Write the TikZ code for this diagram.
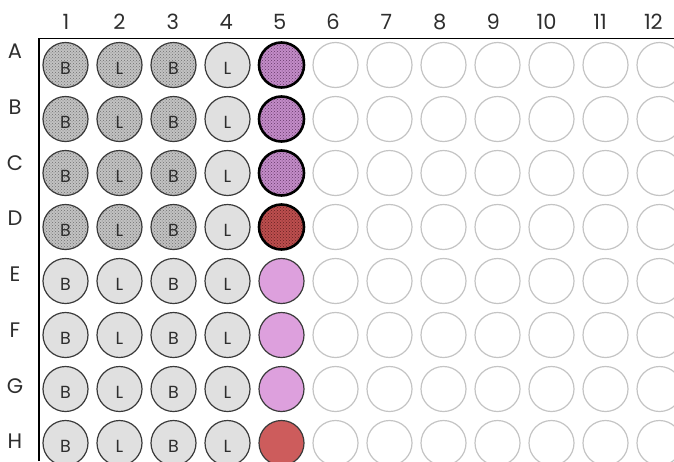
\documentclass[tikz,border=0pt]{standalone}
\usepackage{fontspec}
\setmainfont{Poppins}
\usepackage{tikz}
\usetikzlibrary{patterns}
\usepackage{xcolor}
\definecolor{WellEdge}{HTML}{3A3A3A}
\definecolor{EmptyEdge}{HTML}{C4C4C4}
\definecolor{LysGray}{HTML}{E0E0E0}
\definecolor{GritGray}{HTML}{C2C2C2}
\definecolor{GritDots}{HTML}{707070}
\definecolor{Plum}{HTML}{DDA0DD}
\definecolor{PlumBase}{HTML}{C38CC8}
\definecolor{PlumDots}{HTML}{663868}
\definecolor{Brick}{HTML}{CD5C5C}
\definecolor{BrickBase}{HTML}{BC4E4E}
\definecolor{BrickDots}{HTML}{642020}
\definecolor{LabelInk}{HTML}{2E2E2E}

\begin{document}
\begin{tikzpicture}[x=1pt, y=-1pt,
  well/.style={circle, minimum size=45pt, inner sep=0pt, line width=1.2pt,
               draw=WellEdge, text=LabelInk, font=\fontsize{17.5}{20}\selectfont,
               text height=19.5pt, text depth=0pt},
  blank/.style={well, draw=EmptyEdge, fill=white},
  lys/.style={well, fill=LysGray},
  grit/.style={well, preaction={fill=GritGray}, pattern=crosshatch dots,
               pattern color=GritDots},
  plumgrit/.style={well, draw=black, line width=2.6pt, preaction={fill=PlumBase},
                   pattern=crosshatch dots, pattern color=PlumDots},
  brickgrit/.style={well, draw=black, line width=2.6pt, preaction={fill=BrickBase},
                    pattern=crosshatch dots, pattern color=BrickDots},
  plum/.style={well, fill=Plum},
  brick/.style={well, fill=Brick},
  axislbl/.style={text=LabelInk, font=\fontsize{21}{24}\selectfont, inner sep=0pt},
  frame/.style={line width=1.6pt, black}
]
  \useasboundingbox (0,0) rectangle (674,461);

  % plate header
  \foreach \c in {1,...,12}
    \node[axislbl] (col\c) at ({66+(\c-1)*53.4},22) {\c};
  \draw[frame] (39,461) -- (39,38.5) -- (674,38.5);

  % wells, rows A--H
  \foreach \r/\w/\v [count=\i] in {A/grit/plumgrit, B/grit/plumgrit, C/grit/plumgrit,
                                  D/grit/brickgrit, E/lys/plum, F/lys/plum,
                                  G/lys/plum, H/lys/brick} {
    \pgfmathsetmacro{\y}{65+(\i-1)*54}
    \node[axislbl] (row\r) at (15,{51.5+(\i-1)*55.7}) {\r};
    \foreach \c/\lbl in {1/B,2/L,3/B}
      \node[\w] (w\r\c) at ({65.5+(\c-1)*54},\y) {\lbl};
    \node[lys] (w\r4) at (227.5,\y) {L};
    \node[\v] (w\r5) at (281.5,\y) {};
    \foreach \c in {6,...,12}
      \node[blank] (w\r\c) at ({65.5+(\c-1)*54},\y) {};
  }
\end{tikzpicture}
\end{document}
